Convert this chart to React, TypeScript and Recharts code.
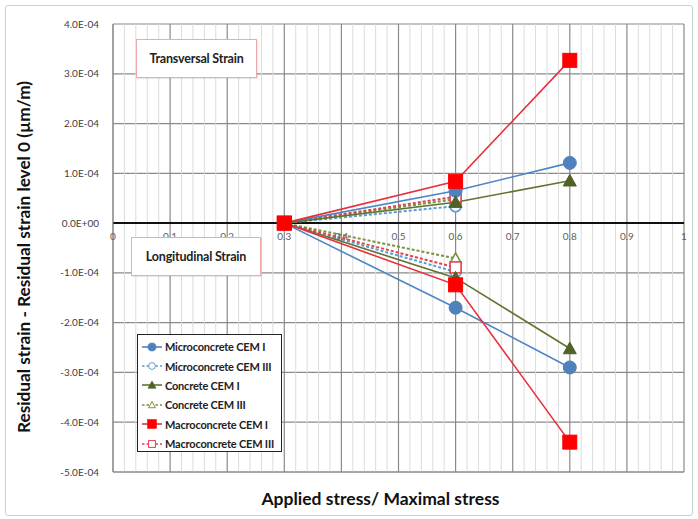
import React from 'react';
import {
  LineChart, Line, XAxis, YAxis, CartesianGrid, ReferenceLine, ReferenceDot,
} from 'recharts';

// applied stress / maximal stress
const stressCemI = [0.3, 0.6, 0.8];
const stressCemIII = [0.3, 0.6];

// residual strain (transversal = T, longitudinal = L)
const microCemI_T = [0, 6.5e-5, 1.21e-4];
const microCemI_L = [0, -1.7e-4, -2.9e-4];
const microCemIII_T = [0, 3.4e-5];
const microCemIII_L = [0, -0.98e-4];
const concreteCemI_T = [0, 4.2e-5, 8.5e-5];
const concreteCemI_L = [0, -1.1e-4, -2.52e-4];
const concreteCemIII_T = [0, 4.8e-5];
const concreteCemIII_L = [0, -0.71e-4];
const macroCemI_T = [0, 8.4e-5, 3.27e-4];
const macroCemI_L = [0, -1.24e-4, -4.4e-4];
const macroCemIII_T = [0, 5.3e-5];
const macroCemIII_L = [0, -0.89e-4];

const xTicks = [0, 0.1, 0.2, 0.3, 0.4, 0.5, 0.6, 0.7, 0.8, 0.9, 1];
const xMinor = [
  0.02, 0.04, 0.06, 0.08, 0.12, 0.14, 0.16, 0.18, 0.22, 0.24, 0.26, 0.28,
  0.32, 0.34, 0.36, 0.38, 0.42, 0.44, 0.46, 0.48, 0.52, 0.54, 0.56, 0.58,
  0.62, 0.64, 0.66, 0.68, 0.72, 0.74, 0.76, 0.78, 0.82, 0.84, 0.86, 0.88,
  0.92, 0.94, 0.96, 0.98,
];
const yTicks = [-5e-4, -4e-4, -3e-4, -2e-4, -1e-4, 0, 1e-4, 2e-4, 3e-4, 4e-4];

type MarkerShape = 'circle' | 'triangle' | 'square';

type Series = {
  name: string;
  x: number[];
  t: number[];
  l: number[];
  line: string;
  marker: string;
  shape: MarkerShape;
  open: boolean;
};

// CEM III first so the CEM I markers end up on top at 0.3
const series: Series[] = [
  { name: 'Microconcrete CEM III', x: stressCemIII, t: microCemIII_T, l: microCemIII_L, line: '#5b9bd5', marker: '#5b9bd5', shape: 'circle', open: true },
  { name: 'Concrete CEM III', x: stressCemIII, t: concreteCemIII_T, l: concreteCemIII_L, line: '#77933c', marker: '#77933c', shape: 'triangle', open: true },
  { name: 'Macroconcrete CEM III', x: stressCemIII, t: macroCemIII_T, l: macroCemIII_L, line: '#e3404c', marker: '#e3404c', shape: 'square', open: true },
  { name: 'Microconcrete CEM I', x: stressCemI, t: microCemI_T, l: microCemI_L, line: '#4a86c5', marker: '#4f81bd', shape: 'circle', open: false },
  { name: 'Concrete CEM I', x: stressCemI, t: concreteCemI_T, l: concreteCemI_L, line: '#5f7530', marker: '#4f6228', shape: 'triangle', open: false },
  { name: 'Macroconcrete CEM I', x: stressCemI, t: macroCemI_T, l: macroCemI_L, line: '#e8303c', marker: '#ff0000', shape: 'square', open: false },
];

const legendOrder = [
  'Microconcrete CEM I', 'Microconcrete CEM III', 'Concrete CEM I',
  'Concrete CEM III', 'Macroconcrete CEM I', 'Macroconcrete CEM III',
];

const FONT = 'Lato, "Open Sans", sans-serif';

const fmtSci = (v: number) => {
  const [m, e] = v.toExponential(1).split('e');
  const n = parseInt(e, 10);
  return `${m}E${n < 0 ? '-' : '+'}${String(Math.abs(n)).padStart(2, '0')}`;
};

const Marker = ({ cx, cy, s }: { cx: number; cy: number; s: Series }) => {
  const fill = s.open ? '#fff' : s.marker;
  const sw = s.open ? 1.6 : 1;
  if (s.shape === 'circle') {
    const r = s.open ? 5.5 : 6.5;
    return <circle cx={cx} cy={cy} r={r} fill={fill} stroke={s.marker} strokeWidth={sw} />;
  }
  if (s.shape === 'triangle') {
    const h = s.open ? 5.5 : 6.5;
    return (
      <polygon
        points={`${cx},${cy - h} ${cx + h},${cy + h * 0.8} ${cx - h},${cy + h * 0.8}`}
        fill={fill} stroke={s.marker} strokeWidth={sw}
      />
    );
  }
  const a = s.open ? 5.5 : 7;
  return <rect x={cx - a} y={cy - a} width={a * 2} height={a * 2} fill={fill} stroke={s.marker} strokeWidth={sw} />;
};

const dotFor = (s: Series) => (p: any) => {
  if (p.cx == null || p.cy == null) return <g key={p.index} />;
  return <Marker key={p.index} cx={p.cx} cy={p.cy} s={s} />;
};

const noteBox: React.CSSProperties = {
  position: 'absolute',
  background: '#fff',
  border: '1px solid #eeaaaa',
  boxShadow: '1px 1px 1px rgba(0,0,0,0.08)',
  display: 'flex',
  alignItems: 'center',
  justifyContent: 'center',
  fontFamily: FONT,
  fontWeight: 700,
  fontSize: 12.5,
  letterSpacing: -0.2,
  color: '#222',
};

const LegendBox = () => (
  <div
    style={{
      position: 'absolute', left: 137, top: 334, width: 145, height: 118,
      background: '#fff', border: '1px solid #222', fontFamily: FONT,
      fontWeight: 700, fontSize: 11, letterSpacing: -0.2, color: '#222', boxSizing: 'border-box',
      padding: '2px 0 0 3px', whiteSpace: 'nowrap', overflow: 'hidden',
    }}
  >
    {legendOrder.map((name) => {
      const s = series.find((d) => d.name === name)!;
      return (
        <div key={name} style={{ display: 'flex', alignItems: 'center', height: 19.4 }}>
          <svg width={22} height={14} style={{ marginRight: 2, flexShrink: 0 }}>
            <line x1={1} y1={7} x2={21} y2={7} stroke={s.line} strokeWidth={1.6} strokeDasharray={s.open ? '2.5 2' : undefined} />
            <g transform="translate(11,7) scale(0.62) translate(-11,-7)">
              <Marker cx={11} cy={7} s={s} />
            </g>
          </svg>
          <span>{name}</span>
        </div>
      );
    })}
  </div>
);

const YTitle = () => (
  <text
    x={23} y={257} transform="rotate(-90, 23, 257)" textAnchor="middle" dominantBaseline="central"
    style={{ fontFamily: FONT, fontWeight: 700, fontSize: 17.2, fill: '#111' }}
  >
    Residual strain - Residual strain level 0 (µm/m)
  </text>
);

export default function App() {
  return (
    <div style={{ position: 'absolute', left: 0, top: 0, width: 698, height: 519, background: '#fff', overflow: 'hidden' }}>
      <div style={{ position: 'absolute', left: 5, top: 5, width: 688, height: 511, border: '1px solid #d0d0d0', borderRadius: 3, boxSizing: 'border-box' }} />
      <LineChart width={698} height={519} margin={{ top: 24, right: 14, bottom: 0, left: 0 }}>
        <CartesianGrid stroke="#8a8a8a" strokeWidth={1.2} vertical={false} horizontalValues={yTicks} />
        {xMinor.map((v) => (
          <ReferenceLine key={'m' + v} x={v} stroke="#dcdcdc" strokeWidth={1} />
        ))}
        {xTicks.map((v) => (
          <ReferenceLine key={'M' + v} x={v} stroke="#8a8a8a" strokeWidth={1.2} />
        ))}
        <XAxis
          dataKey="x" type="number" domain={[0, 1]} ticks={xTicks} tick={false} tickLine={false}
          axisLine={{ stroke: '#8a8a8a' }} height={47} allowDuplicatedCategory={false}
          label={{ value: 'Applied stress/ Maximal stress', position: 'insideBottom', offset: 14, dx: -18, style: { fontFamily: FONT, fontWeight: 700, fontSize: 17.5, fill: '#111' } }}
        />
        <YAxis
          type="number" domain={[-5e-4, 4e-4]} ticks={yTicks} tickFormatter={fmtSci} width={113}
          tickLine={false} axisLine={{ stroke: '#8a8a8a' }} tickMargin={8}
          tick={{ fontFamily: FONT, fontSize: 10, fill: '#404040' }}
          label={<YTitle />}
        />
        {xTicks.map((t) => (
          <ReferenceDot
            key={t} x={t} y={0} r={0} fill="none" stroke="none"
            label={{ value: String(t), position: 'bottom', offset: 10, style: { fontFamily: FONT, fontSize: 10, fill: '#606060' } }}
          />
        ))}
        <ReferenceLine y={0} stroke="#111" strokeWidth={2} />
        {series.map((s) => (
          <Line
            key={s.name + '-T'} data={s.x.map((x, i) => ({ x, y: s.t[i] }))} dataKey="y" name={s.name}
            stroke={s.line} strokeWidth={s.open ? 2 : 1.6} strokeDasharray={s.open ? '3 2' : undefined}
            dot={dotFor(s)} activeDot={false} isAnimationActive={false} legendType="none"
          />
        ))}
        {series.map((s) => (
          <Line
            key={s.name + '-L'} data={s.x.map((x, i) => ({ x, y: s.l[i] }))} dataKey="y" name={s.name}
            stroke={s.line} strokeWidth={s.open ? 2 : 1.6} strokeDasharray={s.open ? '3 2' : undefined}
            dot={dotFor(s)} activeDot={false} isAnimationActive={false} legendType="none"
          />
        ))}
      </LineChart>
      <div style={{ ...noteBox, left: 136, top: 39, width: 119, height: 37 }}>Transversal Strain</div>
      <div style={{ ...noteBox, left: 131, top: 237, width: 128, height: 37 }}>Longitudinal Strain</div>
      <LegendBox />
    </div>
  );
}
